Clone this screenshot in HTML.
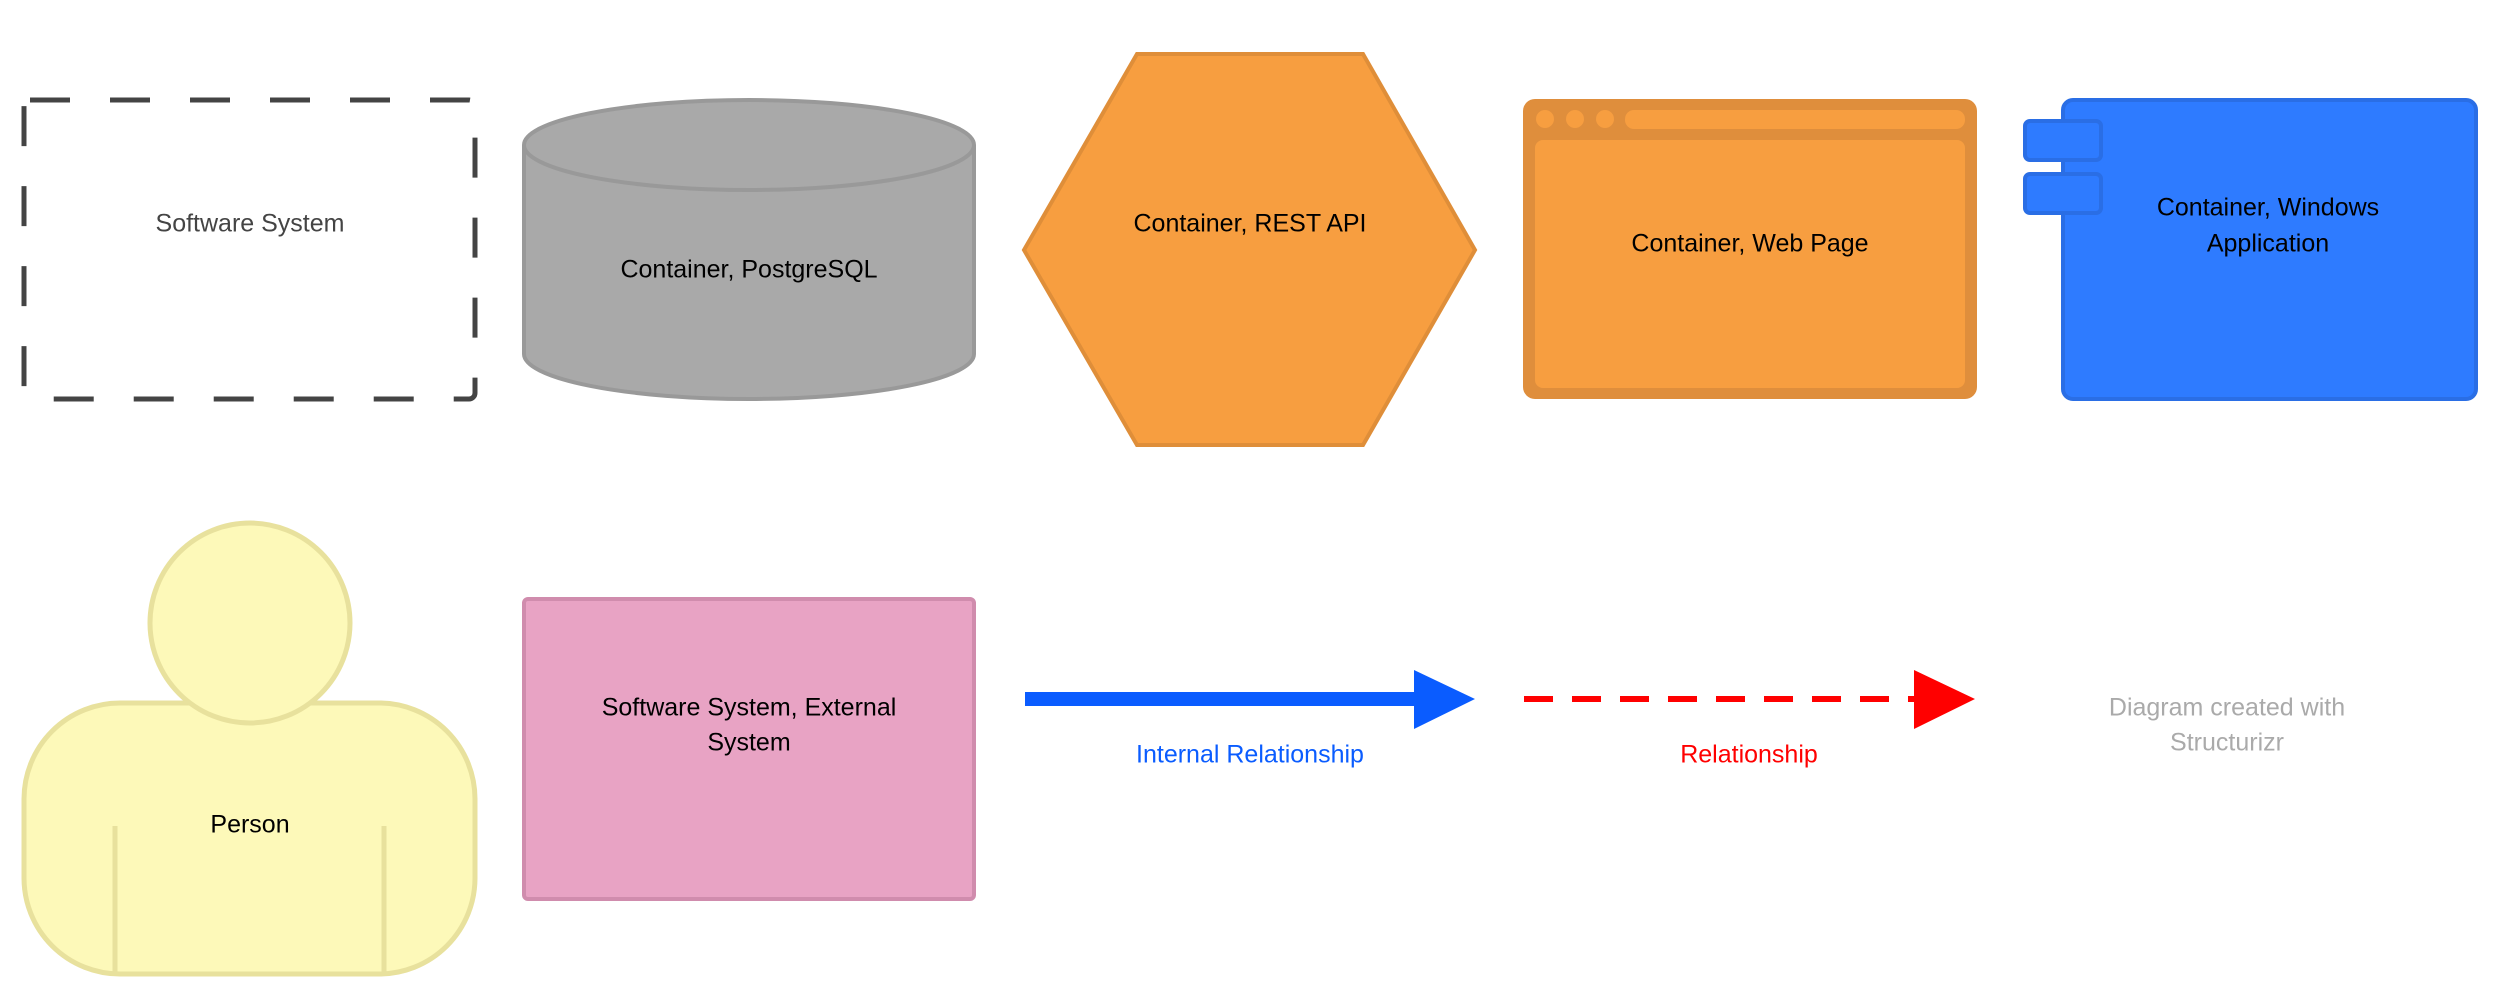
<!DOCTYPE html>
<html><head><meta charset="utf-8"><style>
html,body{margin:0;padding:0;background:#fff;}
svg{display:block;}
text{font-family:"Liberation Sans",sans-serif;font-size:25px;text-anchor:middle;dominant-baseline:middle;}
</style></head><body>
<svg width="2500" height="1000" viewBox="0 0 2500 1000" xmlns="http://www.w3.org/2000/svg">
<!-- Software System dashed -->
<rect x="24" y="100" width="451" height="299" rx="6" fill="#fff" stroke="#444" stroke-width="5" stroke-dasharray="40,40"/>
<text x="250" y="225" fill="#444">Software System</text>
<!-- Cylinder -->
<path d="M524,145 L524,354 A225,45 0 0 0 974,354 L974,145" fill="#a9a9a9" stroke="#999" stroke-width="4"/>
<ellipse cx="749" cy="145" rx="225" ry="45" fill="#a9a9a9" stroke="#999" stroke-width="4"/>
<text x="749" y="271" fill="#000">Container, PostgreSQL</text>
<!-- Hexagon -->
<polygon points="1024,250 1137,54 1363,54 1475,250 1363,445 1137,445" fill="#f79e40" stroke="#df8e39" stroke-width="4"/>
<text x="1250" y="225" fill="#000">Container, REST API</text>
<!-- Web page -->
<rect x="1523" y="99" width="454" height="300" rx="12" fill="#df8e3c"/>
<rect x="1535" y="140" width="430" height="248" rx="8" fill="#f79e40"/>
<circle cx="1545" cy="119" r="9" fill="#f79e40"/>
<circle cx="1575" cy="119" r="9" fill="#f79e40"/>
<circle cx="1605" cy="119" r="9" fill="#f79e40"/>
<rect x="1625" y="110" width="340" height="19" rx="9" fill="#f79e40"/>
<text x="1750" y="245" fill="#000">Container, Web Page</text>
<!-- Windows app -->
<rect x="2063" y="100" width="413" height="299" rx="10" fill="#2e7bff" stroke="#2a6ee5" stroke-width="4"/>
<rect x="2025" y="121" width="76" height="39" rx="5" fill="#2e7bff" stroke="#2a6ee5" stroke-width="4"/>
<rect x="2025" y="174" width="76" height="39" rx="5" fill="#2e7bff" stroke="#2a6ee5" stroke-width="4"/>
<text x="2268" y="209" fill="#000">Container, Windows</text>
<text x="2268" y="245" fill="#000">Application</text>
<!-- Person -->
<rect x="24" y="703" width="451" height="271" rx="96" fill="#fdf9b9" stroke="#e8e19d" stroke-width="5"/>
<circle cx="250" cy="623" r="100" fill="#fdf9b9" stroke="#e8e19d" stroke-width="5"/>
<line x1="115" y1="826" x2="115" y2="974" stroke="#e8e19d" stroke-width="5"/>
<line x1="384" y1="826" x2="384" y2="974" stroke="#e8e19d" stroke-width="5"/>
<text x="250" y="826" fill="#000">Person</text>
<!-- External system -->
<rect x="524" y="599" width="450" height="300" rx="4" fill="#e8a3c4" stroke="#d08cad" stroke-width="4"/>
<text x="749" y="709" fill="#000">Software System, External</text>
<text x="749" y="744" fill="#000">System</text>
<!-- Internal relationship -->
<line x1="1025" y1="699" x2="1420" y2="699" stroke="#0a5cff" stroke-width="14"/>
<polygon points="1414,670 1475,699 1414,729" fill="#0a5cff"/>
<text x="1250" y="756" fill="#0a5cff">Internal Relationship</text>
<!-- Relationship -->
<line x1="1524" y1="699" x2="1916" y2="699" stroke="#f00" stroke-width="6" stroke-dasharray="29,19"/>
<polygon points="1914,670 1975,699 1914,729" fill="#f00"/>
<text x="1749" y="756" fill="#f00">Relationship</text>
<!-- Footer -->
<text x="2227" y="709" fill="#aaa">Diagram created with</text>
<text x="2227" y="744" fill="#aaa">Structurizr</text>
</svg>
</body></html>
